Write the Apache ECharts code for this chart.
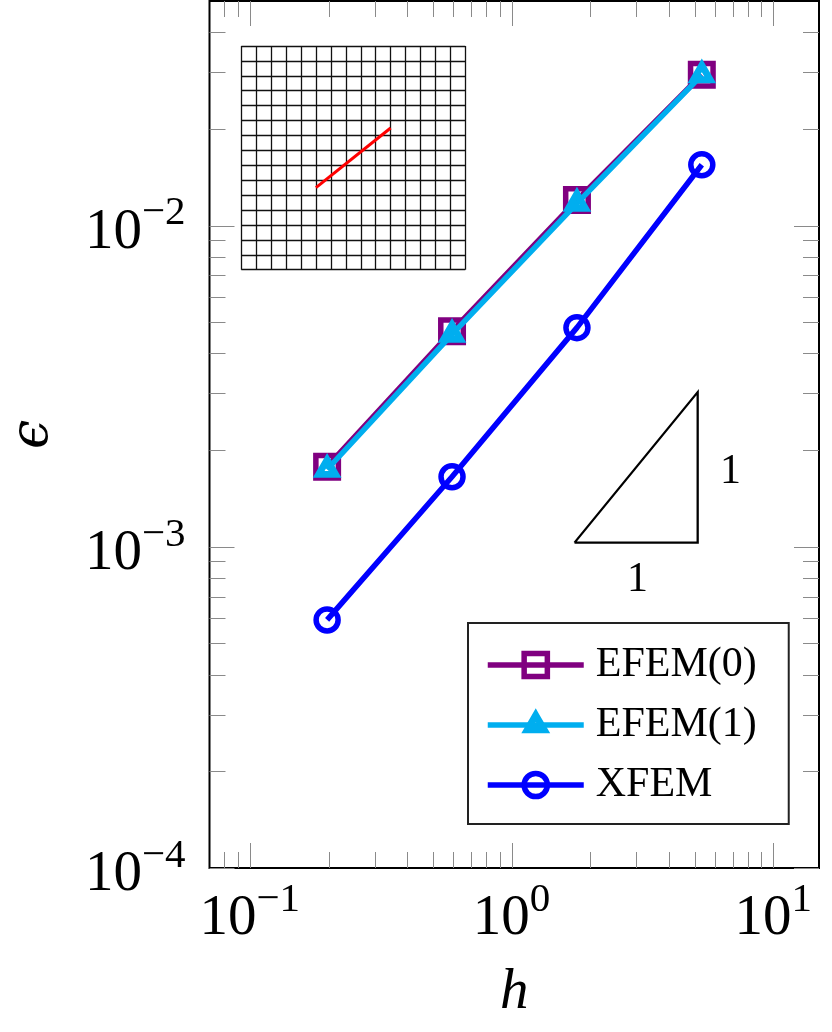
<!DOCTYPE html>
<html>
<head>
<meta charset="utf-8">
<style>
html, body { margin: 0; padding: 0; background: #fff; }
#chart { width: 832px; height: 1032px; }
</style>
<script src="https://cdn.jsdelivr.net/npm/echarts@6/dist/echarts.min.js"></script>
</head>
<body>
<div id="chart"></div>
<script>
var h = [0.1975, 0.5925, 1.7775, 5.33];
var efem0 = [0.001775, 0.00469, 0.0120, 0.02946];
var efem1 = [0.00174, 0.00458, 0.01172, 0.0294];
var xfem = [0.000592, 0.001652, 0.00481, 0.01546];

var xMajor = [0.1, 1, 10];
var yMajor = [0.0001, 0.001, 0.01];
var xMinor = [0.08, 0.09, 0.2, 0.3, 0.4, 0.5, 0.6, 0.7, 0.8, 0.9, 2, 3, 4, 5, 6, 7, 8, 9];
var yMinor = [0.0002, 0.0003, 0.0004, 0.0005, 0.0006, 0.0007, 0.0008, 0.0009,
    0.002, 0.003, 0.004, 0.005, 0.006, 0.007, 0.008, 0.009, 0.02, 0.03, 0.04];

// slope triangle, in data units
var slopeX = [1.74, 5.14, 5.14, 1.74];
var slopeY = [0.00103, 0.00103, 0.00303, 0.00103];

// mesh inset, in cell units
var crackX = [5, 10];
var crackY = [5.5, 9.5];
var meshCells = 15;

var serif = '"Liberation Serif", serif';
var PURPLE = '#800080', CYAN = '#00aeef', BLUE = '#0000ff';
var LW = 5.5;
// centroid on the point, extra zero length pieces keep the box square
var TRI = 'path://M1 0.15L1.736 1.425L0.264 1.425Z M0 0L0 0 M2 2L2 2';

function zip(a, b) {
    var out = [];
    for (var i = 0; i < a.length; i++) {
        out.push([a[i], b[i]]);
    }
    return out;
}

function expLabel(v) {
    var e = Math.round(Math.log(v) / Math.LN10);
    return '{b|10}{s|' + String(e).replace('-', '\u2212') + '}';
}

var labelRich = {
    b: { fontFamily: serif, fontSize: 57, color: '#000', lineHeight: 60 },
    s: { fontFamily: serif, fontSize: 41, color: '#000', lineHeight: 41, padding: [0, 0, 38, 0] }
};

function tickRows() {
    var rows = [];
    xMajor.forEach(function (v) { rows.push(['x', v, 25]); });
    xMinor.forEach(function (v) { rows.push(['x', v, 16]); });
    yMajor.forEach(function (v) { rows.push(['y', v, 25]); });
    yMinor.forEach(function (v) { rows.push(['y', v, 16]); });
    return rows;
}

function renderTick(params, api) {
    var box = params.coordSys;
    var axis = api.value(0);
    var v = api.value(1);
    var len = api.value(2);
    var segs;
    if (axis == 0) {
        var x = Math.round(api.coord([v, 0.001])[0]) + 0.5;
        segs = [[x, box.y + box.height, x, box.y + box.height - len], [x, box.y, x, box.y + len]];
    } else {
        var y = Math.round(api.coord([1, v])[1]) + 0.5;
        segs = [[box.x, y, box.x + len, y], [box.x + box.width, y, box.x + box.width - len, y]];
    }
    return {
        type: 'group',
        children: segs.map(function (s) {
            return {
                type: 'line',
                shape: { x1: s[0], y1: s[1], x2: s[2], y2: s[3] },
                style: { stroke: '#8a8a8a', lineWidth: 1 }
            };
        })
    };
}

var option = {
    animation: false,
    backgroundColor: '#fff',
    grid: [
        { left: 209.5, top: 1, width: 609.5, height: 867, show: true, borderColor: '#000', borderWidth: 2, backgroundColor: 'transparent', outerBoundsMode: 'none' },
        { left: 241.3, top: 46, width: 224, height: 223.7, show: false, outerBoundsMode: 'none' }
    ],
    xAxis: [{
        type: 'log', gridIndex: 0, min: 0.0702, max: 14.94,
        name: 'h', nameLocation: 'middle', nameGap: 97,
        nameTextStyle: { fontFamily: serif, fontStyle: 'italic', fontSize: 57, color: '#000' },
        axisLine: { show: false }, axisTick: { show: false }, splitLine: { show: false }, minorTick: { show: false },
        axisLabel: { customValues: xMajor, margin: 21, formatter: expLabel, rich: labelRich }
    }, {
        type: 'value', gridIndex: 1, min: 0, max: meshCells, interval: 1,
        axisLine: { show: false }, axisTick: { show: false }, axisLabel: { show: false },
        splitLine: { show: true, lineStyle: { color: '#111', width: 1.3 } }
    }],
    yAxis: [{
        type: 'log', gridIndex: 0, min: 0.0001, max: 0.05,
        name: '\u03f5', nameLocation: 'middle', nameGap: 150, nameRotate: 90,
        nameTextStyle: { fontFamily: '"DejaVu Serif", serif', fontStyle: 'italic', fontSize: 52, color: '#000' },
        axisLine: { show: false }, axisTick: { show: false }, splitLine: { show: false }, minorTick: { show: false },
        axisLabel: { customValues: yMajor, margin: 24, padding: [14, 0, 0, 0], formatter: expLabel, rich: labelRich }
    }, {
        type: 'value', gridIndex: 1, min: 0, max: meshCells, interval: 1,
        axisLine: { show: false }, axisTick: { show: false }, axisLabel: { show: false },
        splitLine: { show: true, lineStyle: { color: '#111', width: 1.3 } }
    }],
    legend: {
        show: true,
        data: ['EFEM(0)', 'EFEM(1)', 'XFEM'],
        orient: 'vertical', left: 468, top: 623,
        padding: [21, 32, 18, 17],
        backgroundColor: '#fff', borderColor: '#222', borderWidth: 2,
        itemWidth: 96, itemHeight: 29, itemGap: 18,
        itemStyle: { borderWidth: 'inherit' },
        lineStyle: { width: 'inherit' },
        textStyle: { fontFamily: serif, fontSize: 42, color: '#000', padding: [0, 0, 0, 7] },
        selectedMode: false
    },
    series: [{
        name: 'ticks', type: 'custom', coordinateSystem: 'cartesian2d', xAxisIndex: 0, yAxisIndex: 0, z: 1,
        silent: true, clip: false,
        encode: { x: 1 },
        data: tickRows().map(function (r) { return [r[0] == 'x' ? 0 : 1, r[1], r[2]]; }),
        renderItem: renderTick
    }, {
        name: 'slope', type: 'line', xAxisIndex: 0, yAxisIndex: 0, z: 2, silent: true,
        data: zip(slopeX, slopeY), showSymbol: false, symbol: 'none',
        lineStyle: { color: '#000', width: 2.3, join: 'miter' }
    }, {
        name: 'crack', type: 'line', xAxisIndex: 1, yAxisIndex: 1, z: 3, silent: true,
        data: zip(crackX, crackY), symbol: 'none',
        lineStyle: { color: '#ff0000', width: 3 }
    }, {
        name: 'EFEM(0)', type: 'line', xAxisIndex: 0, yAxisIndex: 0, z: 4,
        data: zip(h, efem0), symbol: 'rect', symbolSize: 22.5, showAllSymbol: true,
        lineStyle: { color: PURPLE, width: LW },
        itemStyle: { color: 'transparent', borderColor: PURPLE, borderWidth: LW }
    }, {
        name: 'EFEM(1)', type: 'line', xAxisIndex: 0, yAxisIndex: 0, z: 5,
        data: zip(h, efem1), symbol: TRI, symbolSize: 23, showAllSymbol: true,
        lineStyle: { color: CYAN, width: LW },
        itemStyle: { color: 'transparent', borderColor: CYAN, borderWidth: 6.8, borderJoin: 'miter' }
    }, {
        name: 'XFEM', type: 'line', xAxisIndex: 0, yAxisIndex: 0, z: 6,
        data: zip(h, xfem), symbol: 'circle', symbolSize: 22, showAllSymbol: true,
        lineStyle: { color: BLUE, width: LW },
        itemStyle: { color: 'transparent', borderColor: BLUE, borderWidth: LW }
    }],
    graphic: [
        { type: 'text', left: 720, top: 451, style: { text: '1', font: '42px ' + serif, fill: '#000' } },
        { type: 'text', left: 627, top: 559, style: { text: '1', font: '42px ' + serif, fill: '#000' } }
    ]
};

var chart = echarts.init(document.getElementById('chart'));
chart.setOption(option);
</script>
</body>
</html>
